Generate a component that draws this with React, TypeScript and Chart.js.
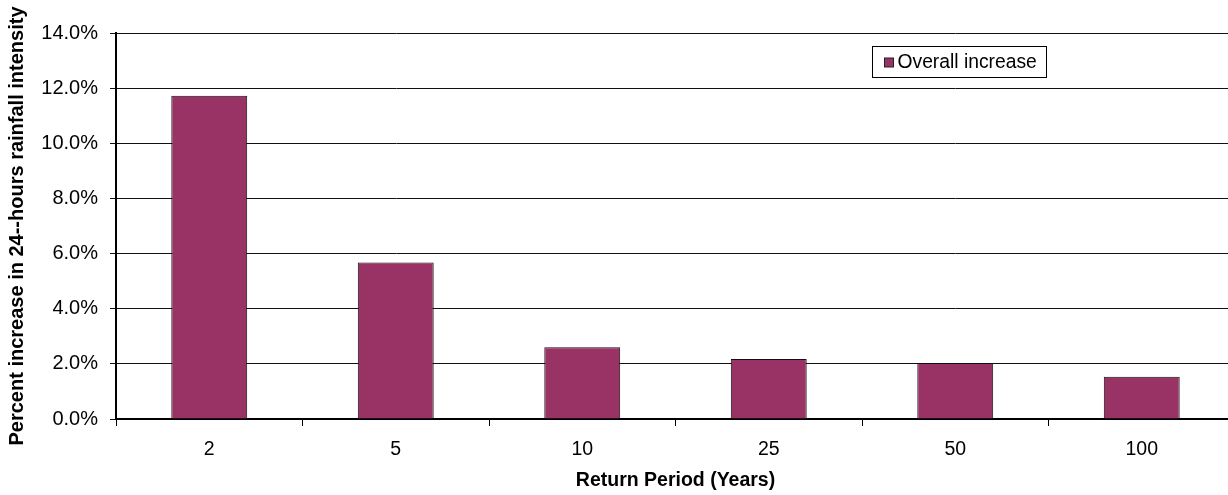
import React, { useEffect, useRef } from "react";
import { Chart, registerables } from "chart.js";

Chart.register(...registerables);

const categories = ["2", "5", "10", "25", "50", "100"];
const overallIncrease = [11.72, 5.68, 2.6, 2.18, 2.03, 1.53];
const seriesLabel = "Overall increase";
const yTitle = "Percent increase in 24--hours rainfall intensity";
const xTitle = "Return Period (Years)";
const yMax = 14;
const yStep = 2;

const FONT = "'Liberation Sans', Arial, sans-serif";
const BAR_COLOR = "#993366";

const legendPlugin = {
  id: "boxLegend",
  afterDraw(chart: any) {
    const { ctx, chartArea } = chart;
    const bx = chartArea.left + 756.5;
    const by = chartArea.top + 13.5;
    const bw = 174;
    const bh = 31;
    ctx.save();
    ctx.fillStyle = "#fff";
    ctx.fillRect(bx, by, bw, bh);
    ctx.strokeStyle = "#000";
    ctx.lineWidth = 1;
    ctx.strokeRect(bx, by, bw, bh);
    ctx.fillStyle = BAR_COLOR;
    ctx.fillRect(bx + 12, by + 11.5, 9, 9);
    ctx.strokeStyle = "#222";
    ctx.strokeRect(bx + 12, by + 11.5, 9, 9);
    ctx.fillStyle = "#000";
    ctx.font = `19.3px ${FONT}`;
    ctx.textBaseline = "middle";
    ctx.textAlign = "left";
    ctx.fillText(seriesLabel, bx + 25, by + bh / 2 + 1);
    ctx.restore();
  },
};

export default function App() {
  const ref = useRef<HTMLCanvasElement | null>(null);

  useEffect(() => {
    if (!ref.current) return;
    const chart = new Chart(ref.current, {
      type: "bar",
      data: {
        labels: categories,
        datasets: [
          {
            label: seriesLabel,
            data: overallIncrease,
            backgroundColor: BAR_COLOR,
            borderColor: "#111",
            borderWidth: 1,
            categoryPercentage: 1,
            barPercentage: 0.407,
          },
        ],
      },
      options: {
        animation: false,
        responsive: false,
        maintainAspectRatio: false,
        layout: { padding: { top: 33, right: 5, left: 0, bottom: 0 } },
        plugins: {
          legend: { display: false },
          tooltip: { enabled: false },
        },
        scales: {
          x: {
            afterFit(scale: any) {
              scale.height = 76;
            },
            grid: {
              offset: true,
              drawOnChartArea: false,
              drawTicks: true,
              tickLength: 7,
              color: "#000",
              lineWidth: 1,
            },
            border: { display: true, color: "#000", width: 2 },
            ticks: {
              color: "#000",
              font: { family: FONT, size: 19.5 },
              padding: 12,
            },
            title: {
              display: true,
              text: xTitle,
              color: "#000",
              font: { family: FONT, size: 19.5, weight: "bold" },
              padding: { top: 0, bottom: 3 },
            },
          },
          y: {
            min: 0,
            max: yMax,
            afterFit(scale: any) {
              scale.width = 116;
            },
            grid: {
              drawOnChartArea: true,
              drawTicks: true,
              tickLength: 6,
              color: "#111",
              lineWidth: 1,
            },
            border: { display: true, color: "#000", width: 2 },
            ticks: {
              stepSize: yStep,
              color: "#000",
              font: { family: FONT, size: 20 },
              padding: 12,
              callback: (v: any) => Number(v).toFixed(1) + "%",
            },
            title: {
              display: true,
              text: yTitle,
              color: "#000",
              font: { family: FONT, size: 20, weight: "bold" },
              padding: { top: 5, bottom: 0 },
            },
          },
        },
      },
      plugins: [legendPlugin],
    });
    return () => chart.destroy();
  }, []);

  return (
    <div
      style={{
        position: "fixed",
        left: 0,
        top: 0,
        width: 1228,
        height: 495,
        overflow: "hidden",
        background: "#fff",
      }}
    >
      <canvas ref={ref} width={1240} height={495} style={{ display: "block" }} />
    </div>
  );
}
